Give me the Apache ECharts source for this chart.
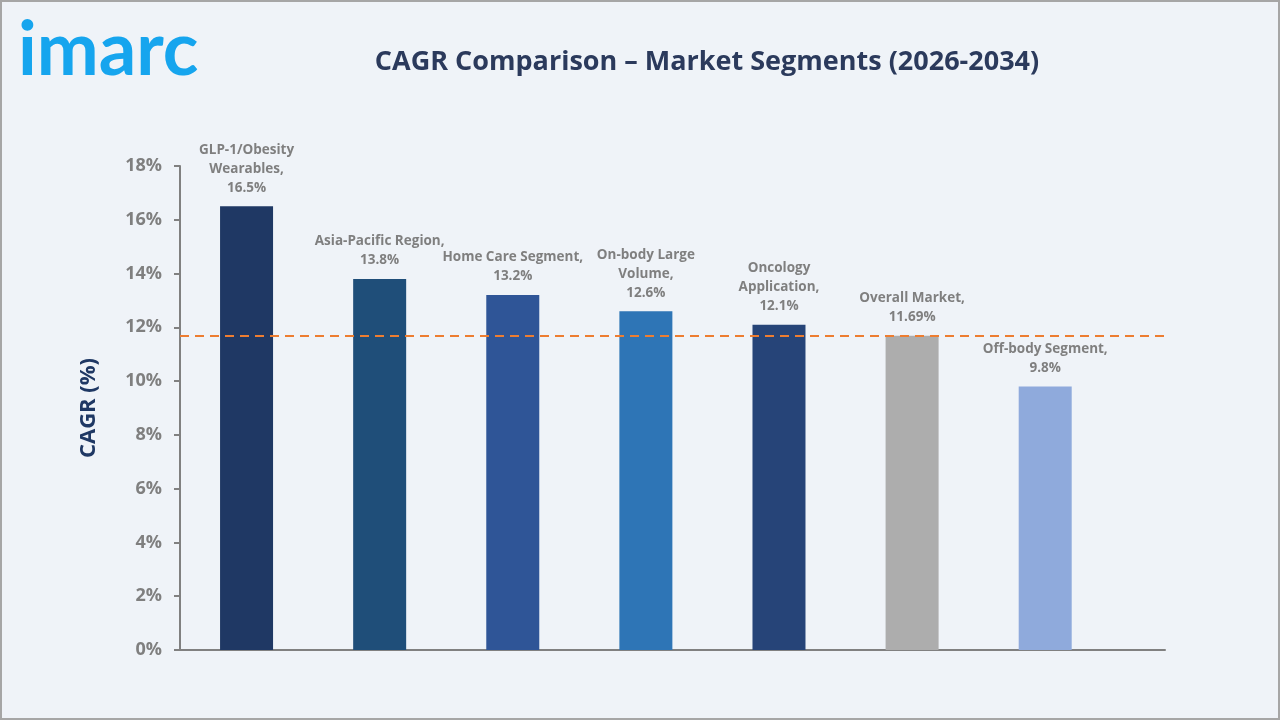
<!DOCTYPE html>
<html>
<head>
<meta charset="utf-8">
<script src="https://cdn.jsdelivr.net/npm/echarts@6/dist/echarts.min.js"></script>
<style>
  html, body { margin: 0; padding: 0; background: #eff3f8; }
  #container { width: 1280px; height: 720px; }
</style>
</head>
<body>
<div id="container"></div>
<script>
// segment names and their CAGR (%)
var segments = ['GLP-1/Obesity\nWearables', 'Asia-Pacific Region', 'Home Care Segment', 'On-body Large\nVolume', 'Oncology\nApplication', 'Overall Market', 'Off-body Segment'];
var cagrValues = [16.5, 13.8, 13.2, 12.6, 12.1, 11.69, 9.8];
var barColors = ['#1f3864', '#1f4e79', '#2f5597', '#2e75b6', '#264478', '#adadad', '#8faadc'];
var overallCagr = 11.69;
var yTicks = [0, 2, 4, 6, 8, 10, 12, 14, 16, 18];

var barData = [];
for (var i = 0; i < cagrValues.length; i++) {
  barData.push({ value: [i, cagrValues[i]], itemStyle: { color: barColors[i] } });
}

var option = {
  backgroundColor: '#eff3f8',
  textStyle: { fontFamily: 'Open Sans' },
  title: {
    text: 'CAGR Comparison – Market Segments (2026-2034)',
    left: 702, top: 44, textAlign: 'center',
    textStyle: { fontSize: 27, fontWeight: 'bold', color: '#2b3a5c', fontFamily: 'Open Sans' }
  },
  graphic: [
    { type: 'rect', shape: { x: 1, y: 1, width: 1278, height: 718 }, style: { fill: 'none', stroke: '#a6a6a6', lineWidth: 2 }, silent: true },
    { type: 'text', left: 18, top: 14, style: { text: 'imarc', fill: '#16a5ee', font: 'bold 74px "Lato"' } }
  ],
  grid: { left: 180, right: 115, top: 166, bottom: 70 },
  xAxis: {
    type: 'value', min: -0.5, max: 6.9,
    axisLine: { show: true, onZero: false, lineStyle: { color: '#808080', width: 2 } },
    axisTick: { show: false }, axisLabel: { show: false }, splitLine: { show: false }
  },
  yAxis: {
    type: 'value', min: 0, max: yTicks[yTicks.length - 1], interval: 2,
    name: 'CAGR (%)', nameLocation: 'middle', nameGap: 80, nameRotate: 90,
    nameTextStyle: { fontSize: 22, fontWeight: 'bold', color: '#1f3864', fontFamily: 'Open Sans' },
    axisLine: { show: true, onZero: false, lineStyle: { color: '#808080', width: 2 } },
    axisTick: { show: true, length: 6, lineStyle: { color: '#808080', width: 2 } },
    axisLabel: { formatter: '{value}%', fontSize: 18, fontWeight: 'bold', color: '#7f7f7f', margin: 18 },
    splitLine: { show: false }
  },
  series: [{
    type: 'bar', barWidth: 53, data: barData,
    label: {
      show: true, position: 'top', distance: 9,
      fontSize: 13.5, fontWeight: 'bold', color: '#7f7f7f', lineHeight: 19, align: 'center',
      formatter: function (p) { return segments[p.dataIndex] + ',\n' + cagrValues[p.dataIndex] + '%'; }
    },
    markLine: {
      silent: true, symbol: 'none', label: { show: false },
      lineStyle: { color: '#ed7d31', type: [9, 6], width: 2 },
      data: [{ yAxis: overallCagr }]
    }
  }]
};

var myChart = echarts.init(document.getElementById('container'));
myChart.setOption(option);
</script>
</body>
</html>
